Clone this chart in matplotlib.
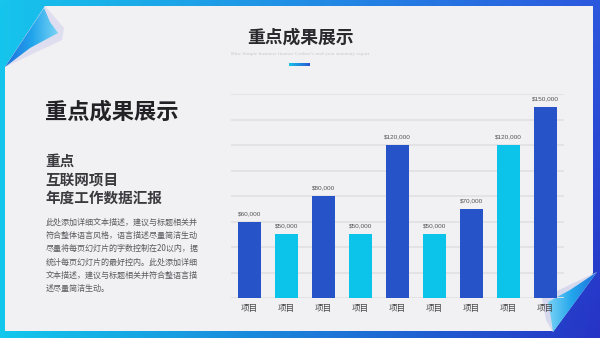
import numpy as np
import matplotlib
matplotlib.use("Agg")
import matplotlib.pyplot as plt
from matplotlib.patches import Polygon
from matplotlib.colors import LinearSegmentedColormap

plt.rcParams['font.family'] = ['Noto Sans CJK SC', 'DejaVu Sans']

# ---- data ----
categories = ["项目"] * 9
values = [60000, 50000, 80000, 50000, 120000, 50000, 70000, 120000, 150000]
bar_colors = ["#2753c9", "#0cc3e9", "#2753c9", "#0cc3e9", "#2753c9",
              "#0cc3e9", "#2753c9", "#0cc3e9", "#2753c9"]
y_ticks = list(range(0, 160001, 20000))

title = "重点成果展示"
subtitle = "Blue Simple business finance Cashier's mid-year summary report"
heading = "重点成果展示"
sub_lines = ["重点", "互联网项目", "年度工作数据汇报"]
body_lines = [
    "此处添加详细文本描述，建议与标题相关并",
    "符合整体语言风格，语言描述尽量简洁生动",
    "尽量将每页幻灯片的字数控制在20以内，据",
    "统计每页幻灯片的最好控内。此处添加详细",
    "文本描述，建议与标题相关并符合整语言描",
    "述尽量简洁生动。",
]

W, H = 600, 338
fig = plt.figure(figsize=(6, 3.38), dpi=100)

# ---- background: blue gradient, card, page curls (pixel coords) ----
bg = fig.add_axes([0, 0, 1, 1])
bg.set_xlim(0, W)
bg.set_ylim(H, 0)
bg.axis("off")

tl = np.array([22, 196, 236]) / 255
tr = np.array([44, 88, 222]) / 255
bl = np.array([18, 200, 236]) / 255
br = np.array([38, 52, 198]) / 255
u = np.linspace(0, 1, 120)[None, :, None]
v = np.linspace(0, 1, 70)[:, None, None]
grad = (1 - v) * ((1 - u) * tl + u * tr) + v * ((1 - u) * bl + u * br)
bg.imshow(grad, extent=(0, W, H, 0), aspect="auto", zorder=0)

card = Polygon([(45, 6), (593, 6), (593, 273), (553, 331), (5, 331), (5, 67)],
               closed=True, facecolor="#f1f0f2", edgecolor="none", zorder=1)
bg.add_patch(card)

curl_cmap = LinearSegmentedColormap.from_list("curl", ["#1f6fdc", "#22a6ec", "#7fd6f6"])
lin = np.linspace(0, 1, 64)[None, :]

# top-left curl
shadow_tl = Polygon([(45, 6), (64, 28), (62, 40), (5, 67)], closed=True,
                    facecolor="#dedef0", edgecolor="none", zorder=2)
bg.add_patch(shadow_tl)
curl_tl = Polygon([(44, 8), (50, 22), (58, 33), (30, 48), (5, 67)], closed=True,
                  facecolor="none", edgecolor="none", zorder=3)
bg.add_patch(curl_tl)
im = bg.imshow(lin, cmap=curl_cmap, extent=(5, 60, 67, 6), aspect="auto", zorder=3)
im.set_clip_path(curl_tl)

# bottom-right curl
shadow_br = Polygon([(597, 272), (542, 298), (546, 320), (553, 332)], closed=True,
                    facecolor="#d6d8ee", edgecolor="none", zorder=2)
bg.add_patch(shadow_br)
curl_br = Polygon([(597, 272), (570, 290), (548, 302), (551, 318), (553, 332)],
                  closed=True, facecolor="none", edgecolor="none", zorder=3)
bg.add_patch(curl_br)
im2 = bg.imshow(lin[:, ::-1], cmap=curl_cmap, extent=(546, 598, 333, 271),
                aspect="auto", zorder=3)
im2.set_clip_path(curl_br)

# ---- titles and text ----
bg.text(300, 38, title, ha="center", va="center", fontsize=12.8,
        fontweight="bold", color="#2a2a2e", zorder=4)
bg.text(300, 54, subtitle, ha="center", va="center", fontsize=3.8,
        color="#c9c9cf", family=["Liberation Serif", "DejaVu Serif"], zorder=4)
line_cmap = LinearSegmentedColormap.from_list("ln", ["#16c2ea", "#2a55d0"])
bg.imshow(lin, cmap=line_cmap, extent=(289, 310, 66, 63.5), aspect="auto", zorder=4)

bg.text(45, 112, heading, ha="left", va="center", fontsize=16,
        fontweight="bold", color="#222226", zorder=4)
for i, s in enumerate(sub_lines):
    bg.text(45, 161 + i * 18.5, s, ha="left", va="center", fontsize=10.5,
            fontweight="bold", color="#3a3a3f", zorder=4)
for i, s in enumerate(body_lines):
    bg.text(46, 222 + i * 13.3, s, ha="left", va="center", fontsize=5.8,
            color="#5a5a60", zorder=4)

# ---- bar chart ----
ax = fig.add_axes([231 / W, 40 / H, 333 / W, 204 / H])
ax.set_facecolor("none")
x = np.arange(len(values))
ax.bar(x, values, width=0.63, color=bar_colors, zorder=3)
for xi, val in zip(x, values):
    ax.annotate(f"${val:,}", (xi, val), xytext=(0, 4), textcoords="offset points",
                ha="center", va="bottom", fontsize=4.6, color="#555555",
                family=["Liberation Sans", "DejaVu Sans"])
ax.set_xlim(-0.5, 8.5)
ax.set_ylim(0, 160000)
ax.set_yticks(y_ticks)
ax.set_yticklabels([])
ax.yaxis.grid(True, color="#e2e2e5", lw=1.3, zorder=0)
ax.set_xticks(x)
ax.set_xticklabels(categories, fontsize=6.2, color="#444448")
ax.tick_params(axis="both", length=0)
ax.tick_params(axis="x", pad=4.5)
for sp in ax.spines.values():
    sp.set_visible(False)

fig.savefig("out.png", dpi=100)
